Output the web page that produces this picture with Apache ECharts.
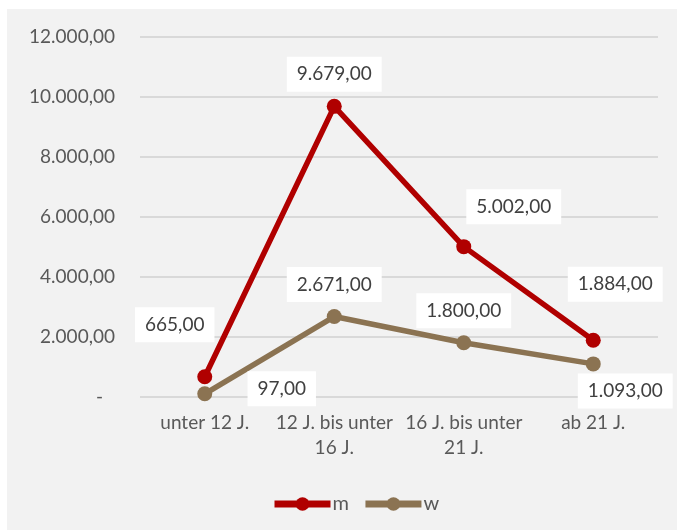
<!DOCTYPE html>
<html>
<head>
<meta charset="utf-8">
<script src="https://cdn.jsdelivr.net/npm/echarts@6/dist/echarts.min.js"></script>
<style>
html,body{margin:0;padding:0;background:#ffffff;}
#chart{width:677px;height:530px;}
</style>
</head>
<body>
<div id="chart"></div>
<script>
// ---- data ----
var categories = ['unter 12 J.', '12 J. bis unter\n16 J.', '16 J. bis unter\n21 J.', 'ab 21 J.'];
var seriesNames = ['m', 'w'];
var mValues = [665, 9679, 5002, 1884];
var wValues = [97, 2671, 1800, 1093];
var yTicks = [0, 2000, 4000, 6000, 8000, 10000, 12000];

// ---- styles ----
var colors = ['#B00000', '#8B7352'];
var mLabelOffsets = [[-30, -52], [0, -32], [50, -40], [22, -56]];
var wLabelOffsets = [[77, -5], [0, -32], [0, -32], [32, 27]];
var FONT = 'Lato';
var FS = 19;

function fmtDE(v) {
  var s = Math.abs(v).toFixed(2).split('.');
  var intPart = s[0].replace(/\B(?=(\d{3})+(?!\d))/g, '.');
  return (v < 0 ? '-' : '') + intPart + ',' + s[1];
}

function buildData(values, offsets) {
  return values.map(function (v, i) {
    return { value: v, label: { offset: offsets[i] } };
  });
}

var labelStyle = {
  show: true,
  position: 'inside',
  formatter: function (p) { return fmtDE(p.value); },
  backgroundColor: '#ffffff',
  padding: [8, 10, 8, 10],
  color: '#404040',
  fontSize: FS,
  fontFamily: FONT,
  lineHeight: 19
};

var chart = echarts.init(document.getElementById('chart'), null, { renderer: 'canvas' });
chart.setOption({
  animation: false,
  backgroundColor: '#ffffff',
  graphic: [{
    type: 'rect', z: -10, silent: true,
    shape: { x: 7, y: 9, width: 670, height: 521 },
    style: { fill: '#f2f2f2' }
  }],
  grid: { left: 140, right: 19, top: 36.7, bottom: 133.3, containLabel: false },
  legend: {
    data: seriesNames,
    left: 266,
    top: 489,
    itemWidth: 56,
    itemHeight: 17,
    itemGap: 13,
    lineStyle: { width: 7 },
    textStyle: { color: '#595959', fontSize: 20, fontFamily: FONT, padding: [0, 0, 0, -3] }
  },
  xAxis: {
    type: 'category',
    data: categories,
    boundaryGap: true,
    axisLine: { show: false },
    axisTick: { show: false },
    axisLabel: {
      color: '#595959', fontSize: FS, fontFamily: FONT, lineHeight: 25,
      margin: 14, interval: 0
    },
    splitLine: { show: false }
  },
  yAxis: {
    type: 'value',
    min: yTicks[0],
    max: yTicks[yTicks.length - 1],
    interval: yTicks[1] - yTicks[0],
    axisLine: { show: false },
    axisTick: { show: false },
    axisLabel: {
      margin: 25,
      color: '#595959', fontSize: FS, fontFamily: FONT,
      formatter: function (v) { return v === 0 ? '{d|-}' : fmtDE(v); },
      rich: { d: { color: '#595959', fontSize: FS, fontFamily: FONT, padding: [0, 12, 0, 0] } }
    },
    splitLine: { show: true, lineStyle: { color: '#d9d9d9', width: 2 } }
  },
  series: [
    {
      name: seriesNames[0],
      type: 'line',
      data: buildData(mValues, mLabelOffsets),
      symbol: 'circle',
      symbolSize: 15,
      itemStyle: { color: colors[0] },
      lineStyle: { color: colors[0], width: 5.5 },
      label: labelStyle,
      z: 2
    },
    {
      name: seriesNames[1],
      type: 'line',
      data: buildData(wValues, wLabelOffsets),
      symbol: 'circle',
      symbolSize: 15,
      itemStyle: { color: colors[1] },
      lineStyle: { color: colors[1], width: 5.5 },
      label: labelStyle,
      z: 3
    }
  ]
});
</script>
</body>
</html>
